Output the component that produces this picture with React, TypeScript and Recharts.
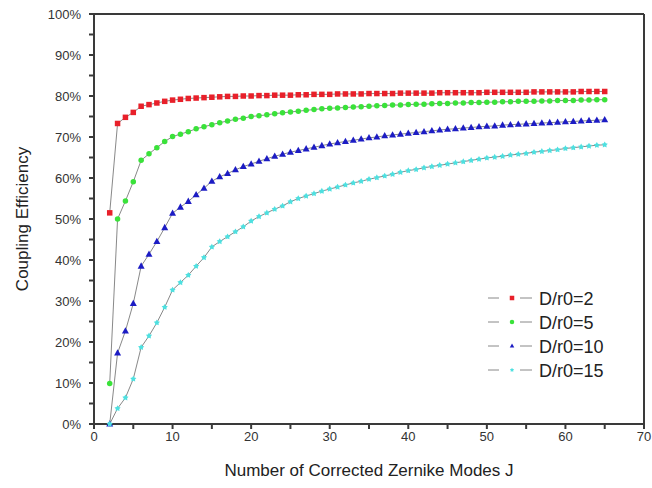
import React from 'react';
import { LineChart, Line, XAxis, YAxis, ReferenceLine } from 'recharts';

const modesJ = [2,3,4,5,6,7,8,9,10,11,12,13,14,15,16,17,18,19,20,21,22,23,24,25,26,27,28,29,30,31,32,33,34,35,36,37,38,39,40,41,42,43,44,45,46,47,48,49,50,51,52,53,54,55,56,57,58,59,60,61,62,63,64,65];

const dr2 = [51.5,73.3,74.8,76.0,77.5,77.9,78.3,78.7,79.0,79.2,79.4,79.5,79.6,79.7,79.8,79.9,79.9,80.0,80.0,80.1,80.1,80.2,80.2,80.2,80.3,80.3,80.4,80.4,80.4,80.5,80.5,80.5,80.5,80.6,80.6,80.6,80.6,80.7,80.7,80.7,80.7,80.7,80.8,80.8,80.8,80.8,80.8,80.8,80.9,80.9,80.9,80.9,80.9,80.9,81.0,81.0,81.0,81.0,81.0,81.0,81.1,81.1,81.1,81.1];

const dr5 = [9.9,50.0,54.4,59.1,64.3,65.9,67.4,68.9,70.1,70.7,71.3,72.0,72.5,73.0,73.5,73.9,74.3,74.6,75.0,75.2,75.4,75.7,75.9,76.1,76.3,76.5,76.7,76.9,77.0,77.1,77.2,77.3,77.4,77.5,77.6,77.7,77.8,77.8,77.9,78.0,78.0,78.1,78.2,78.2,78.3,78.3,78.4,78.4,78.5,78.5,78.6,78.6,78.7,78.7,78.7,78.8,78.8,78.9,78.9,78.9,79.0,79.0,79.1,79.1];

const dr10 = [0,17.3,22.7,29.4,38.5,41.4,44.5,47.9,51.4,52.9,54.3,55.9,57.5,59.2,60.3,61.1,62.0,62.8,63.4,64.1,64.7,65.3,65.8,66.3,66.7,67.1,67.5,67.9,68.3,68.6,68.9,69.2,69.5,69.8,70.0,70.3,70.5,70.7,70.9,71.1,71.3,71.5,71.7,71.9,72.0,72.2,72.3,72.5,72.6,72.7,72.9,73.0,73.1,73.2,73.3,73.4,73.5,73.6,73.7,73.8,73.9,74.0,74.1,74.2];

const dr15 = [0,3.8,6.4,11.0,18.7,21.5,24.7,28.5,32.7,34.5,36.3,38.5,40.6,43.2,44.5,45.7,46.9,48.1,49.5,50.6,51.5,52.4,53.2,54.2,55.0,55.6,56.2,56.8,57.3,57.8,58.3,58.8,59.2,59.7,60.1,60.5,60.9,61.4,61.8,62.1,62.5,62.8,63.1,63.4,63.7,64.0,64.3,64.6,64.9,65.1,65.3,65.6,65.8,66.0,66.3,66.5,66.7,66.9,67.2,67.4,67.6,67.8,68.0,68.1];

const xTicks = [0,5,10,15,20,25,30,35,40,45,50,55,60,65,70];
const yTicks = [0,5,10,15,20,25,30,35,40,45,50,55,60,65,70,75,80,85,90,95,100];

const seriesNames = ['D/r0=2', 'D/r0=5', 'D/r0=10', 'D/r0=15'];

const data = modesJ.map((j, i) => ({ j, a: dr2[i], b: dr5[i], c: dr10[i], d: dr15[i] }));

const RED = '#e8202a';
const GREEN = '#3ae23a';
const BLUE = '#1c1cc4';
const CYAN = '#4ee0e0';
const LINE = '#6a6a6a';
const AXIS = '#3a3a3a';
const FONT = '"Liberation Sans", Arial, sans-serif';

function marker(kind: string, cx: number, cy: number, s: number, key?: any) {
  if (kind === 'square') {
    return <rect key={key} x={cx - s / 2} y={cy - s / 2} width={s} height={s} fill={RED} />;
  }
  if (kind === 'circle') {
    return <circle key={key} cx={cx} cy={cy} r={s / 2} fill={GREEN} />;
  }
  if (kind === 'triangle') {
    const h = s * 0.9;
    return <polygon key={key} points={`${cx},${cy - h * 0.6} ${cx - s / 2},${cy + h * 0.4} ${cx + s / 2},${cy + h * 0.4}`} fill={BLUE} />;
  }
  const pts: string[] = [];
  const R = s / 2;
  const r = R * 0.55;
  for (let k = 0; k < 10; k++) {
    const ang = -Math.PI / 2 + (k * Math.PI) / 5;
    const rad = k % 2 === 0 ? R : r;
    pts.push(`${cx + rad * Math.cos(ang)},${cy + rad * Math.sin(ang)}`);
  }
  return <polygon key={key} points={pts.join(' ')} fill={CYAN} />;
}

const makeDot = (kind: string, s: number) => (p: any) => {
  if (p.cx == null || p.cy == null) return <g key={p.index} />;
  return marker(kind, p.cx, p.cy, s, `${kind}-${p.index}`);
};

const kinds = ['square', 'circle', 'triangle', 'star'];

const LegendBox = () => (
  <svg width={140} height={100} style={{ display: 'block' }}>
    {seriesNames.map((name, i) => {
      const y = 10 + i * 24;
      return (
        <g key={name}>
          <line x1={4} x2={15} y1={y} y2={y} stroke={LINE} strokeWidth={0.8} />
          <line x1={36} x2={48} y1={y} y2={y} stroke={LINE} strokeWidth={0.8} />
          {marker(kinds[i], 28, y, 4.5)}
          <text x={55} y={y + 6.5} fontSize={18} fontFamily={FONT} fill="#222">{name}</text>
        </g>
      );
    })}
  </svg>
);

export default function App() {
  return (
    <div style={{ position: 'absolute', left: 0, top: 0, width: 652, height: 488, background: '#fff' }}>
      <LineChart width={652} height={488} data={data} margin={{ top: 14, right: 8, bottom: 0, left: 0 }}>
        <XAxis
          dataKey="j"
          type="number"
          domain={[0, 70]}
          ticks={xTicks}
          interval={0}
          tickFormatter={(v: number) => (v % 10 === 0 ? String(v) : '')}
          height={64}
          stroke={AXIS}
          strokeWidth={2}
          tickSize={5}
          tickMargin={3}
          tick={{ fontSize: 13, fontFamily: FONT, fill: '#333' }}
          label={{ value: 'Number of Corrected Zernike Modes J', position: 'insideBottom', offset: 12, style: { fontSize: 17, fontFamily: FONT, fill: '#222' } }}
        />
        <YAxis
          type="number"
          domain={[0, 100]}
          ticks={yTicks}
          interval={0}
          tickFormatter={(v: number) => (v % 10 === 0 ? `${v}%` : '')}
          width={94}
          stroke={AXIS}
          strokeWidth={2}
          tickSize={5}
          tickMargin={8}
          tick={{ fontSize: 13, fontFamily: FONT, fill: '#333' }}
          label={{ value: 'Coupling Efficiency', angle: -90, position: 'insideLeft', offset: 22, style: { textAnchor: 'middle', fontSize: 17, fontFamily: FONT, fill: '#222' } }}
        />
        <ReferenceLine y={100} stroke={AXIS} strokeWidth={2} />
        <ReferenceLine x={70} stroke={AXIS} strokeWidth={2} />
        <Line dataKey="a" name={seriesNames[0]} stroke={LINE} strokeWidth={0.8} dot={makeDot('square', 5.5)} activeDot={false} isAnimationActive={false} />
        <Line dataKey="b" name={seriesNames[1]} stroke={LINE} strokeWidth={0.8} dot={makeDot('circle', 5.5)} activeDot={false} isAnimationActive={false} />
        <Line dataKey="c" name={seriesNames[2]} stroke={LINE} strokeWidth={0.8} dot={makeDot('triangle', 7)} activeDot={false} isAnimationActive={false} />
        <Line dataKey="d" name={seriesNames[3]} stroke={LINE} strokeWidth={0.8} dot={makeDot('star', 6.5)} activeDot={false} isAnimationActive={false} />
      </LineChart>
      <div style={{ position: 'absolute', left: 484, top: 288 }}>
        <LegendBox />
      </div>
    </div>
  );
}
